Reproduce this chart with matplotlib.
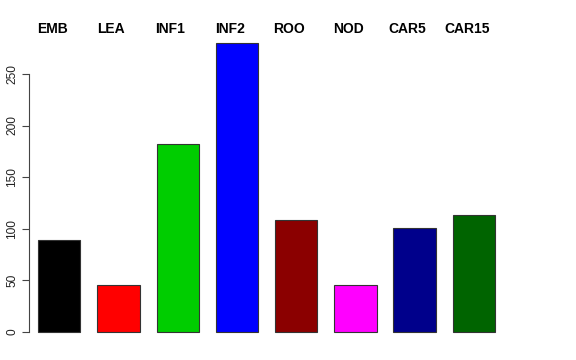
import matplotlib
matplotlib.use("Agg")
import matplotlib.pyplot as plt
import numpy as np

# bar data
labels = ["EMB", "LEA", "INF1", "INF2", "ROO", "NOD", "CAR5", "CAR15"]
values = [89, 45, 182, 280, 108, 45, 101, 113]
colors = ["black", "red", "#00CD00", "blue", "#8B0000", "magenta",
          "#00008B", "#006400"]
yticks = [0, 50, 100, 150, 200, 250]

plt.rcParams['font.family'] = ['Liberation Sans', 'DejaVu Sans']

fig = plt.figure(figsize=(5.76, 3.6), dpi=100)
ax = fig.add_axes([19.8 / 576, 1 - 343.2 / 360, (513.3 - 19.8) / 576,
                   (343.2 - 31.5) / 360])

# R barplot layout: width 1, space 0.4
n = len(values)
centers = 0.9 + 1.4 * np.arange(n)
ax.bar(centers, values, width=1.0, color=colors, edgecolor='#333333',
       linewidth=0.8)

top = max(values)
lo, hi = 0.4, 0.4 + 1.4 * n - 0.4
ax.set_xlim(lo - 0.04 * (hi - lo), hi + 0.04 * (hi - lo))
ax.set_ylim(-0.04 * top, top * 1.04)

# labels along the top edge
for c, lab in zip(centers, labels):
    ax.text(c - 0.17, 0.995, lab, transform=ax.get_xaxis_transform(),
            ha='center', va='baseline', fontsize=10, fontweight='bold')

for s in ['top', 'right', 'bottom']:
    ax.spines[s].set_visible(False)
ax.spines['left'].set_position(('data', 0.19))
ax.spines['left'].set_bounds(0, 250)
ax.spines['left'].set_color('#444444')
ax.spines['left'].set_linewidth(0.8)
ax.set_xticks([])
ax.set_yticks(yticks)
ax.set_yticklabels([str(t) for t in yticks], rotation=90, va='center')
ax.tick_params(axis='y', length=5, width=0.8, color='#444444', pad=3,
               labelsize=8.6, labelcolor='#222222')

fig.savefig("out.png", dpi=100)
